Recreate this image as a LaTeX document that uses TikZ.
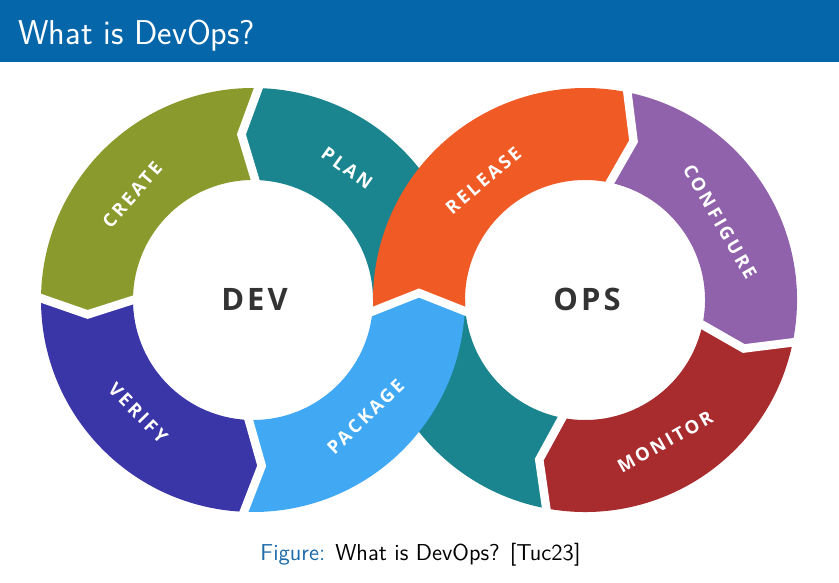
\documentclass[tikz,border=0pt]{standalone}
\usepackage{fontspec}
\usetikzlibrary{calc}

\newfontfamily\lblfont[LetterSpace=15]{Open Sans}
\newfontfamily\hubfont[LetterSpace=10]{Open Sans}

\definecolor{barblue}{RGB}{6,102,170}
\definecolor{capblue}{RGB}{30,108,172}
\definecolor{planteal}{RGB}{26,133,142}
\definecolor{creategreen}{RGB}{138,154,44}
\definecolor{verifyblue}{RGB}{58,54,168}
\definecolor{packageblue}{RGB}{65,169,243}
\definecolor{releaseorange}{RGB}{240,90,37}
\definecolor{configpurple}{RGB}{144,98,171}
\definecolor{monitorred}{RGB}{168,43,46}
\definecolor{hubgray}{RGB}{51,51,51}

% annular band on a ring of radii 120/212 centred at #1, from angle #2 to #3;
% #4 = angular offset of the notch tip at the start, #5 = offset of the arrow tip at the end
\newcommand\ringseg[6]{%
  \fill[#6] ($(#1)+(#2:120)$) -- ($(#1)+({#2+(#4)}:166)$) -- ($(#1)+(#2:212)$)
    arc[start angle=#2, end angle=#3, radius=212]
    -- ($(#1)+({#3+(#5)}:166)$) -- ($(#1)+(#3:120)$)
    arc[start angle=#3, end angle=#2, radius=120] -- cycle;}
% white chevron separating two bands
\newcommand\ringgap[3]{%
  \draw[gapline] ($(#1)+(#2:114)$) -- ($(#1)+({#2+(#3)}:166)$) -- ($(#1)+(#2:218)$);}

\begin{document}
\begin{tikzpicture}[x=0.02cm, y=0.02cm,
  seglabel/.style={text=white, inner sep=0pt,
    font=\lblfont\bfseries\fontsize{10.4}{12}\selectfont},
  hub/.style={text=hubgray, inner sep=0pt,
    font=\hubfont\bfseries\fontsize{17.6}{20}\selectfont},
  gapline/.style={draw=white, line width=0.17cm, line join=miter}]

\useasboundingbox (0,0) rectangle (839,582);
\fill[white] (0,0) rectangle (839,582);

% title bar
\fill[barblue] (0,519.5) rectangle (839,582);
\node[anchor=base west, inner sep=0pt, text=white,
  font=\sffamily\fontsize{19.6}{23}\selectfont] (title) at (18,537) {What is DevOps?};

% ring centres
\coordinate (L) at (253,282);
\coordinate (R) at (585,282);

% teal band running through the crossing (drawn first, partly covered)
\ringseg{R}{260}{180}{-6}{0}{planteal}
\ringseg{L}{0}{88}{0}{6}{planteal}

% left ring
\ringseg{L}{88}{179}{6}{6}{creategreen}
\ringseg{L}{179}{267}{6}{6}{verifyblue}
\fill[packageblue] ($(L)+(267:120)$) -- ($(L)+(273:166)$) -- ($(L)+(267:212)$)
  arc[start angle=267, end angle=356.8, radius=212]
  -- (419,289) -- ($(L)+(354.3:120)$)
  arc[start angle=354.3, end angle=267, radius=120] -- cycle;

% right ring
\fill[releaseorange] ($(R)+(183.2:212)$)
  arc[start angle=183.2, end angle=79, radius=212]
  -- ($(R)+(73:166)$) -- ($(R)+(79:120)$)
  arc[start angle=79, end angle=185.7, radius=120] -- (419,289) -- cycle;
\ringseg{R}{79}{-11}{-6}{-6}{configpurple}
\ringseg{R}{-11}{-100}{-6}{-6}{monitorred}

% separating gaps
\ringgap{L}{88}{6}
\ringgap{L}{179}{6}
\ringgap{L}{267}{6}
\draw[gapline] (368,268.8) -- (419,289) -- (470,268.8);
\ringgap{R}{79}{-6}
\ringgap{R}{-11}{-6}
\ringgap{R}{-100}{-6}

% band labels
\node[seglabel, rotate=-35.5] (plan) at ($(L)+(54.5:162)$) {PLAN};
\node[seglabel, rotate=49] (create) at ($(L)+(139:160)$) {CREATE};
\node[seglabel, rotate=-45.5] (verify) at ($(L)+(224.5:161)$) {VERIFY};
\node[seglabel, rotate=44] (package) at ($(L)+(314:162)$) {PACKAGE};
\node[seglabel, rotate=40.4] (release) at ($(R)+(130.4:157)$) {RELEASE};
\node[seglabel, rotate=-60] (configure) at ($(R)+(30:156)$) {CONFIGURE};
\node[seglabel, rotate=29.4] (monitor) at ($(R)+(-60.6:163)$) {MONITOR};

% hub labels
\node[hub] (dev) at (254.5,283) {DEV};
\node[hub] (ops) at (587,283) {OPS};

% caption
\node[anchor=base, inner sep=0pt, font=\sffamily\fontsize{13.1}{15}\selectfont]
  (caption) at (420.5,22) {\textcolor{capblue}{Figure:} What is DevOps? [Tuc23]};
\end{tikzpicture}
\end{document}
